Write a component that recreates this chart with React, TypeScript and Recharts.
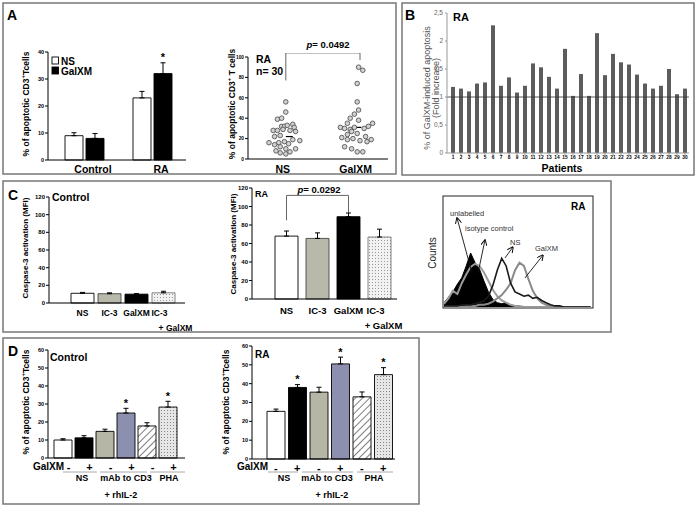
import React from 'react';
import {
  BarChart, Bar, XAxis, YAxis, ErrorBar, Cell, ScatterChart, Scatter,
  ReferenceLine, AreaChart, Area, LabelList,
} from 'recharts';

const FONT = '"Liberation Sans", Arial, Helvetica, sans-serif';

// ===== Panel A, left =====
const aCategories = ['Control', 'RA'];
const aSeriesNames = ['NS', 'GalXM'];
const aNS = [9, 23];
const aNSErr = [1.1, 2.4];
const aGalXM = [8, 32];
const aGalXMErr = [1.8, 4.0];
const aGalXMStar = [false, true];
const aTicks = [0, 10, 20, 30, 40];

// ===== Panel A, right (scatter) =====
const scatterGroups = ['NS', 'GalXM'];
const scatterGroupX = [27, 79];
const scatterNSx = [27, 27, 21, 24, 32, 24, 26, 28, 33, 18, 21, 25, 30, 34, 19, 23, 32, 15, 19, 22, 26, 29, 37, 23, 27, 34, 23, 27, 30, 20];
const scatterNSy = [56, 46, 39, 40, 34, 32, 32, 33, 31, 28, 28, 29, 28, 27, 22, 23, 19, 16, 14, 16, 17, 15, 18, 12, 10, 10, 6, 5, 7, 8];
const scatterGalX = [79, 82, 78, 78, 79, 76, 73, 79, 71, 66, 69, 73, 76, 86, 89, 83, 71, 74, 78, 84, 67, 71, 75, 80, 85, 88, 69, 74, 78, 82];
const scatterGalY = [90, 87, 74, 56, 48, 44, 40, 38, 35, 31, 30, 29, 31, 32, 35, 30, 24, 27, 25, 22, 21, 19, 20, 18, 17, 19, 12, 10, 7, 7];
const scatterMedian = [22, 31];
const scatterMedianSpan = [[27, 32], [74, 81]];
const scatterTicks = [0, 20, 40, 60, 80, 100];
const aBracket = { left: 27, right: 80, top: 104, leftEnd: 77, rightEnd: 97 };

// ===== Panel B =====
const patients = ['1', '2', '3', '4', '5', '6', '7', '8', '9', '10', '11', '12', '13', '14', '15', '16', '17', '18', '19', '20', '21', '22', '23', '24', '25', '26', '27', '28', '29', '30'];
const foldIncrease = [1.18, 1.15, 1.1, 1.24, 1.26, 2.28, 1.2, 1.35, 1.08, 1.2, 1.6, 1.53, 1.36, 1.15, 1.86, 1.02, 1.41, 1.02, 2.14, 1.39, 1.77, 1.62, 1.58, 1.4, 1.24, 1.15, 1.2, 1.5, 1.05, 1.15];
const bTicks = [0, 0.5, 1, 1.5, 2, 2.5];

// ===== Panel C =====
const cLabels = ['NS', 'IC-3', 'GalXM', 'IC-3'];
const cLabels2 = ['', '', '', '+ GalXM'];
const cControl = [11, 10.5, 10, 11.5];
const cControlErr = [1, 1, 0.6, 1.8];
const cRA = [68, 65.5, 89, 67];
const cRAErr = [5.5, 6, 4, 8.5];
const cTicks = [0, 20, 40, 60, 80, 100, 120];
const cFills = ['#ffffff', '#b8b9aa', '#000000', 'url(#dotsC)'];
const cStrokes = ['#000', '#444', '#000', '#777'];
const cBracket = { left: 0, right: 2, top: 112, leftEnd: 85, rightEnd: 93 };

// ===== Panel C, histogram =====
const histX = [0, 3, 6, 9, 12, 15, 18, 21, 24, 27, 30, 33, 36, 39, 42, 45, 48, 51, 54, 57, 60, 63, 66, 69, 72, 75, 78, 81, 84, 87, 90, 93, 96, 99];
const histUnlabelled = [4, 9, 14, 21, 27, 38, 50, 41, 35, 24, 14, 7, 4, 3, 4, 2, 1, 0, 0, 0, 0, 0, 0, 0, 0, 0, 0, 0, 0, 0, 0, 0, 0, 0];
const histIsotype = [3, 8, 15, 12, 22, 30, 37, 40, 38, 32, 24, 16, 10, 6, 4, 2, 1, 1, 0, 0, 0, 0, 0, 0, 0, 0, 0, 0, 0, 0, 0, 0, 0, 0];
const histNS = [1, 1, 1, 1, 2, 2, 2, 3, 4, 6, 10, 20, 34, 45, 38, 22, 14, 12, 10, 11, 8, 9, 6, 4, 2, 1, 1, 0, 0, 0, 0, 0, 0, 0];
const histGalXM = [0, 0, 0, 0, 0, 1, 1, 1, 2, 2, 3, 5, 8, 11, 16, 22, 34, 41, 38, 26, 15, 8, 4, 2, 1, 1, 0, 0, 0, 0, 0, 0, 0, 0];
const histArrows = [
  { from: [18.9, 31.5], to: [8.8, 82.4] },
  { from: [23, 31.5], to: [27.7, 62] },
  { from: [41.2, 45.4], to: [46.6, 55.6] },
  { from: [54.7, 26.9], to: [66.9, 48] },
];

// ===== Panel D =====
const dSigns = ['-', '+', '-', '+', '-', '+'];
const dGroups = ['NS', 'mAb to CD3', 'PHA'];
const dControl = [10, 11.2, 14.8, 25, 17.8, 28.3];
const dControlErr = [0.7, 1.2, 1.2, 2.6, 1.8, 3.2];
const dControlStar = [false, false, false, true, false, true];
const dRA = [25.3, 38, 35.5, 50.5, 33, 44.8];
const dRAErr = [1.2, 1.5, 2.6, 3.6, 2.6, 3.7];
const dRAStar = [false, true, false, true, false, true];
const dTicks = [0, 10, 20, 30, 40, 50, 60];
const dFills = ['#ffffff', '#000000', '#b5b6a6', '#8d8fae', 'url(#hatchD)', 'url(#dotsD)'];

// ---------- helpers ----------
const geom = (x0: number, y0: number, x1: number, y1: number, l: number, r: number, t: number, b: number) => ({
  left: x0 - l, top: y0 - t, width: x1 - x0 + l + r, height: y1 - y0 + t + b, yW: l, xH: b,
  margin: { top: t, right: r, left: 0, bottom: 0 },
});

const yStyle = (fs: number, color = '#000', weight = 700) => ({
  interval: 0 as const,
  tickSize: 3,
  tickMargin: 1,
  tickLine: { stroke: '#000' },
  axisLine: { stroke: '#000' },
  tick: { fontSize: fs, fontWeight: weight, fill: color, fontFamily: FONT },
});

const catTick = (labels: string[], o: { dy: number; dx?: number; fs: number; lastDx?: number; second?: string[]; dy2?: number; dx2?: number }) => (props: any) => {
  const { x, y, payload } = props;
  const i = Number(payload.value);
  const last = i === labels.length - 1;
  const dx = (o.dx ?? 0) + (last && o.lastDx ? o.lastDx : 0);
  return (
    <g>
      <text x={x + dx} y={y + o.dy} textAnchor="middle" fontSize={o.fs} fontWeight={700} fontFamily={FONT} fill="#000">{labels[i]}</text>
      {o.second && o.second[i] ? (
        <text x={x + (o.dx2 ?? 0)} y={y + (o.dy2 ?? 0)} textAnchor="middle" fontSize={o.fs} fontWeight={700} fontFamily={FONT} fill="#000">{o.second[i]}</text>
      ) : null}
    </g>
  );
};

const starContent = (vals: number[], errs: number[]) => (props: any) => {
  if (props.value === undefined || props.value === null || props.value === '') return null;
  const i = Number(props.value) - 1;
  const vb = props.viewBox ?? {};
  const x = vb.x ?? props.x;
  const y = vb.y ?? props.y;
  const w = vb.width ?? props.width;
  const h = vb.height ?? props.height;
  const px = h / vals[i];
  const top = y - errs[i] * px;
  return <text x={x + w / 2} y={top - 1.5} textAnchor="middle" fontSize={11} fontWeight={700} fontFamily={FONT} fill="#000">*</text>;
};

const ArrowShape = (p: any) => (
  <line x1={p.x1} y1={p.y1} x2={p.x2} y2={p.y2} stroke="#111" strokeWidth={0.9} markerEnd="url(#arrowHead)" />
);

const DotShape = (p: any) => <circle cx={p.cx} cy={p.cy} r={2.3} fill="#d2d2d2" stroke="#555" strokeWidth={0.9} />;

const T = (p: { x: number; y: number; s: number; w?: number; c?: string; a?: 'start' | 'middle' | 'end'; children: React.ReactNode }) => (
  <text x={p.x} y={p.y} fontSize={p.s} fontWeight={p.w ?? 700} fill={p.c ?? '#000'} textAnchor={p.a ?? 'start'} fontFamily={FONT}>{p.children}</text>
);
const VT = (p: { x: number; y: number; s: number; w?: number; c?: string; children: React.ReactNode }) => (
  <text transform={`translate(${p.x},${p.y}) rotate(-90)`} textAnchor="middle" dominantBaseline="central" fontSize={p.s} fontWeight={p.w ?? 700} fill={p.c ?? '#000'} fontFamily={FONT}>{p.children}</text>
);
const CD3Label = ({ x, y, space }: { x: number; y: number; space: boolean }) => (
  <VT x={x} y={y} s={8.5}>
    % of apoptotic CD3<tspan dy={-3.5} fontSize={6}>+</tspan><tspan dy={3.5}>{space ? ' T cells' : 'Tcells'}</tspan>
  </VT>
);

// ---------- data tables ----------
const aData = aCategories.map((name, i) => ({
  i, name, ns: aNS[i], nsErr: [0, aNSErr[i]], gal: aGalXM[i], galErr: [0, aGalXMErr[i]],
  star: aGalXMStar[i] ? i + 1 : undefined,
}));
const nsPts = scatterNSx.map((x, i) => ({ x, y: scatterNSy[i] }));
const galPts = scatterGalX.map((x, i) => ({ x, y: scatterGalY[i] }));
const bData = patients.map((p, i) => ({ p, v: foldIncrease[i] }));
const cCtrlData = cLabels.map((_, i) => ({ i, v: cControl[i], err: [0, cControlErr[i]] }));
const cRAData = cLabels.map((_, i) => ({ i, v: cRA[i], err: [0, cRAErr[i]] }));
const histData = histX.map((x, i) => ({ x, unl: histUnlabelled[i], iso: histIsotype[i], ns: histNS[i], gal: histGalXM[i] }));
const dCtrlData = dSigns.map((_, i) => ({ i, v: dControl[i], err: [0, dControlErr[i]], star: dControlStar[i] ? i + 1 : undefined }));
const dRAData = dSigns.map((_, i) => ({ i, v: dRA[i], err: [0, dRAErr[i]], star: dRAStar[i] ? i + 1 : undefined }));

const gA = geom(48, 52, 186, 160, 30, 6, 10, 22);
const gS = geom(248, 57, 388, 159, 16, 4, 4, 18);
const gB = geom(447, 13, 689, 153, 14, 4, 4, 14);
const gCL = geom(49, 197, 185, 303, 16, 30, 6, 30);
const gCM = geom(252, 188, 397, 299, 16, 30, 6, 32);
const gH = geom(444, 199, 592, 307, 0, 0, 0, 0);
const gDL = geom(48, 350, 185, 458, 16, 4, 6, 16);
const gDR = geom(252, 346, 395, 459, 16, 4, 6, 16);

const abs = (g: { left: number; top: number }) => ({ position: 'absolute' as const, left: g.left, top: g.top });

function CBars({ g, data, pad, tick, bracket }: any) {
  return (
    <div style={abs(g)}>
      <BarChart width={g.width} height={g.height} margin={g.margin} data={data}>
        <XAxis dataKey="i" height={g.xH} padding={pad} tickSize={0} interval={0} axisLine={{ stroke: '#000' }} tick={tick} />
        <YAxis width={g.yW} domain={[0, 120]} ticks={cTicks} {...yStyle(6)} />
        <Bar dataKey="v" barSize={23} strokeWidth={0.9} isAnimationActive={false}>
          {data.map((_: any, i: number) => <Cell key={i} fill={cFills[i]} stroke={cStrokes[i]} />)}
          <ErrorBar dataKey="err" width={2.5} stroke="#000" strokeWidth={1} direction="y" />
        </Bar>
        {bracket ? (
          <>
            <ReferenceLine segment={[{ x: bracket.left, y: bracket.leftEnd }, { x: bracket.left, y: bracket.top }]} stroke="#555" strokeWidth={0.9} ifOverflow="visible" />
            <ReferenceLine segment={[{ x: bracket.left, y: bracket.top }, { x: bracket.right, y: bracket.top }]} stroke="#555" strokeWidth={0.9} ifOverflow="visible" />
            <ReferenceLine segment={[{ x: bracket.right, y: bracket.top }, { x: bracket.right, y: bracket.rightEnd }]} stroke="#555" strokeWidth={0.9} ifOverflow="visible" />
          </>
        ) : null}
      </BarChart>
    </div>
  );
}

function DBars({ g, data, vals, errs, pad, dx }: any) {
  return (
    <div style={abs(g)}>
      <BarChart width={g.width} height={g.height} margin={g.margin} data={data}>
        <XAxis dataKey="i" height={g.xH} padding={pad} tickSize={0} interval={0} axisLine={{ stroke: '#000' }} tick={catTick(dSigns, { dy: 11, dx, fs: 11 })} />
        <YAxis width={g.yW} domain={[0, 60]} ticks={dTicks} {...yStyle(5.5)} />
        <Bar dataKey="v" barSize={18} stroke="#000" strokeWidth={0.9} isAnimationActive={false}>
          {data.map((_: any, i: number) => <Cell key={i} fill={dFills[i]} />)}
          <ErrorBar dataKey="err" width={2.5} stroke="#000" strokeWidth={1} direction="y" />
          <LabelList dataKey="star" content={starContent(vals, errs)} />
        </Bar>
      </BarChart>
    </div>
  );
}

export default function App() {
  return (
    <div style={{ position: 'absolute', left: 0, top: 0, width: 697, height: 509, background: '#fff', fontFamily: FONT, overflow: 'hidden' }}>
      <svg width={0} height={0} style={{ position: 'absolute' }}>
        <defs>
          <pattern id="hatchD" patternUnits="userSpaceOnUse" width="5" height="5" patternTransform="rotate(45)">
            <rect width="5" height="5" fill="#fff" />
            <line x1="0" y1="0" x2="0" y2="5" stroke="#000" strokeWidth="1" />
          </pattern>
          <pattern id="dotsD" patternUnits="userSpaceOnUse" width="3" height="3">
            <rect width="3" height="3" fill="#e6e6e6" />
            <rect x="0" y="0" width="1" height="1" fill="#888" />
          </pattern>
          <pattern id="dotsC" patternUnits="userSpaceOnUse" width="3" height="3">
            <rect width="3" height="3" fill="#f2f2f2" />
            <rect x="1" y="1" width="1" height="1" fill="#999" />
          </pattern>
          <marker id="arrowHead" viewBox="0 0 10 10" refX="9" refY="5" markerWidth="7" markerHeight="7" orient="auto-start-reverse">
            <path d="M0,0 L10,5 L0,10" fill="none" stroke="#111" strokeWidth="1.6" />
          </marker>
        </defs>
      </svg>

      {/* Panel A left */}
      <div style={abs(gA)}>
        <BarChart width={gA.width} height={gA.height} margin={gA.margin} data={aData} barGap={3}>
          <XAxis dataKey="i" height={gA.xH} padding={{ left: 2, right: 0 }} tickSize={0} interval={0} axisLine={{ stroke: '#000' }} tick={catTick(aCategories, { dy: 11, dx: 9, fs: 10.5 })} />
          <YAxis width={gA.yW} domain={[0, 40]} ticks={aTicks} {...yStyle(5.5)} />
          <Bar dataKey="ns" name={aSeriesNames[0]} fill="#fff" stroke="#000" strokeWidth={0.9} barSize={18} isAnimationActive={false}>
            <ErrorBar dataKey="nsErr" width={2.5} stroke="#000" strokeWidth={1} direction="y" />
          </Bar>
          <Bar dataKey="gal" name={aSeriesNames[1]} fill="#000" stroke="#000" strokeWidth={0.9} barSize={18} isAnimationActive={false}>
            <ErrorBar dataKey="galErr" width={2.5} stroke="#000" strokeWidth={1} direction="y" />
            <LabelList dataKey="star" content={starContent(aGalXM, aGalXMErr)} />
          </Bar>
        </BarChart>
      </div>

      {/* Panel A right */}
      <div style={abs(gS)}>
        <ScatterChart width={gS.width} height={gS.height} margin={gS.margin}>
          <XAxis type="number" dataKey="x" domain={[0, 100]} ticks={scatterGroupX} interval={0} height={gS.xH} tickSize={0} axisLine={{ stroke: '#000' }}
            tick={(p: any) => (
              <text x={p.x - 3} y={p.y + 12} textAnchor="middle" fontSize={10.5} fontWeight={700} fontFamily={FONT}>{scatterGroups[scatterGroupX.indexOf(p.payload.value)]}</text>
            )} />
          <YAxis type="number" dataKey="y" domain={[0, 100]} ticks={scatterTicks} width={gS.yW} {...yStyle(4.8)} />
          <Scatter data={nsPts} shape={DotShape} isAnimationActive={false} />
          <Scatter data={galPts} shape={DotShape} isAnimationActive={false} />
          {scatterMedian.map((m, i) => (
            <ReferenceLine key={i} segment={[{ x: scatterMedianSpan[i][0], y: m }, { x: scatterMedianSpan[i][1], y: m }]} stroke="#000" strokeWidth={1.2} ifOverflow="visible" />
          ))}
          <ReferenceLine segment={[{ x: aBracket.left, y: aBracket.leftEnd }, { x: aBracket.left, y: aBracket.top }]} stroke="#555" strokeWidth={0.9} ifOverflow="visible" />
          <ReferenceLine segment={[{ x: aBracket.left, y: aBracket.top }, { x: aBracket.right, y: aBracket.top }]} stroke="#555" strokeWidth={0.9} ifOverflow="visible" />
          <ReferenceLine segment={[{ x: aBracket.right, y: aBracket.top }, { x: aBracket.right, y: aBracket.rightEnd }]} stroke="#555" strokeWidth={0.9} ifOverflow="visible" />
        </ScatterChart>
      </div>

      {/* Panel B */}
      <div style={abs(gB)}>
        <BarChart width={gB.width} height={gB.height} margin={gB.margin} data={bData}>
          <XAxis dataKey="p" interval={0} padding={{ left: 2, right: 0 }} height={gB.xH} tickSize={2} tickMargin={1}
            tickLine={{ stroke: '#999' }} axisLine={{ stroke: '#999' }} tick={{ fontSize: 4.8, fontWeight: 700, fill: '#000', fontFamily: FONT }} />
          <YAxis width={gB.yW} domain={[0, 2.5]} ticks={bTicks} interval={0} tickFormatter={(v: number) => String(v).replace('.', ',')}
            tickSize={2} tickMargin={2} tick={{ fontSize: 6.5, fill: '#666', fontFamily: FONT }} axisLine={{ stroke: '#999' }} tickLine={{ stroke: '#999' }} />
          <Bar dataKey="v" fill="#5c5c5c" barSize={4} isAnimationActive={false} />
          <ReferenceLine y={1} stroke="#333" strokeWidth={0.8} />
        </BarChart>
      </div>

      {/* Panel C */}
      <CBars g={gCL} data={cCtrlData} pad={{ left: 20, right: 8 }}
        tick={catTick(cLabels, { dy: 11, fs: 8.5, lastDx: -4, second: cLabels2, dy2: 26, dx2: 12 })} />
      <CBars g={gCM} data={cRAData} pad={{ left: 19, right: 2 }} bracket={cBracket}
        tick={catTick(cLabels, { dy: 13, fs: 9.5, lastDx: -4, second: cLabels2, dy2: 28, dx2: 4 })} />

      <div style={abs(gH)}>
        <AreaChart width={gH.width} height={gH.height} margin={gH.margin} data={histData}>
          <XAxis type="number" dataKey="x" domain={[0, 100]} hide />
          <YAxis type="number" domain={[0, 100]} hide />
          <Area type="linear" dataKey="unl" stroke="#000" strokeWidth={1} fill="#000" fillOpacity={1} dot={false} activeDot={false} isAnimationActive={false} />
          <Area type="linear" dataKey="iso" stroke="#9a9a9a" strokeWidth={2} fill="none" dot={false} activeDot={false} isAnimationActive={false} />
          <Area type="linear" dataKey="gal" stroke="#8a8a8a" strokeWidth={2} fill="none" dot={false} activeDot={false} isAnimationActive={false} />
          <Area type="linear" dataKey="ns" stroke="#1a1a1a" strokeWidth={1.6} fill="none" dot={false} activeDot={false} isAnimationActive={false} />
          {histArrows.map((a, i) => (
            <ReferenceLine key={i} segment={[{ x: a.from[0], y: a.from[1] }, { x: a.to[0], y: a.to[1] }]} shape={ArrowShape} ifOverflow="visible" />
          ))}
        </AreaChart>
      </div>

      {/* Panel D */}
      <DBars g={gDL} data={dCtrlData} vals={dControl} errs={dControlErr} pad={{ left: 4, right: 7 }} dx={6} />
      <DBars g={gDR} data={dRAData} vals={dRA} errs={dRAErr} pad={{ left: 13, right: 1 }} dx={0} />

      {/* Overlay: frames and texts */}
      <svg width={697} height={509} style={{ position: 'absolute', left: 0, top: 0, pointerEvents: 'none' }}>
        <g fill="none" stroke="#777" strokeWidth={1.5}>
          <rect x={3} y={3} width={393} height={171} />
          <rect x={402} y={3} width={292} height={172} />
          <rect x={3} y={181} width={608} height={151} />
          <rect x={3} y={338} width={416} height={166} />
        </g>
        <rect x={443} y={196} width={150} height={112} fill="none" stroke="#222" strokeWidth={1} />

        <T x={7} y={20} s={14}>A</T>
        <T x={405} y={20} s={14}>B</T>
        <T x={8} y={200} s={14}>C</T>
        <T x={8} y={356} s={14}>D</T>

        {/* A left */}
        <rect x={52} y={57} width={6.5} height={7} fill="#fff" stroke="#000" strokeWidth={0.9} />
        <T x={61} y={64.5} s={10}>{aSeriesNames[0]}</T>
        <rect x={52} y={67} width={6.5} height={7} fill="#000" stroke="#000" strokeWidth={0.9} />
        <T x={61} y={74.5} s={10}>{aSeriesNames[1]}</T>
        <CD3Label x={26} y={104} space={false} />

        {/* A right */}
        <CD3Label x={232} y={104} space={true} />
        <T x={256} y={63} s={10.5}>RA</T>
        <T x={256} y={75} s={10.5}>n= 30</T>
        <text x={328} y={48} fontSize={9.5} fontWeight={700} textAnchor="middle" fontFamily={FONT}>
          <tspan fontStyle="italic">p</tspan>= 0.0492
        </text>

        {/* B */}
        <VT x={427} y={88} s={9} w={400} c="#555">% of GalXM-induced apoptosis</VT>
        <VT x={436} y={88} s={9} w={400} c="#555">(Fold increase)</VT>
        <T x={453} y={21} s={11}>RA</T>
        <T x={562} y={172} s={10.5} a="middle">Patients</T>

        {/* C */}
        <T x={52} y={201} s={10.5}>Control</T>
        <VT x={25} y={248} s={8}>Caspase-3 activation (MFI)</VT>
        <VT x={233} y={244} s={8}>Caspase-3 activation (MFI)</VT>
        <T x={255} y={197} s={9}>RA</T>
        <text x={319} y={193} fontSize={9.5} fontWeight={700} textAnchor="middle" fontFamily={FONT}>
          <tspan fontStyle="italic">p</tspan>= 0.0292
        </text>
        <VT x={432} y={253} s={10} w={400} c="#222">Counts</VT>
        <T x={450} y={216} s={7.5} w={400} c="#333">unlabelled</T>
        <T x={465} y={231} s={7.5} w={400} c="#333">isotype control</T>
        <T x={510} y={245} s={7.5} w={400} c="#333">NS</T>
        <T x={535} y={251} s={7.5} w={400} c="#333">GalXM</T>
        <T x={571} y={210} s={10}>RA</T>

        {/* D */}
        <T x={50} y={361} s={10.5}>Control</T>
        <CD3Label x={26} y={402} space={false} />
        <CD3Label x={226} y={402} space={false} />
        <T x={255} y={358} s={10}>RA</T>
        <T x={33} y={470} s={10}>GalXM</T>
        <T x={237} y={470} s={10}>GalXM</T>
        <g stroke="#aaa" strokeWidth={1}>
          <line x1={63} y1={472} x2={97} y2={472} />
          <line x1={100} y1={472} x2={147} y2={472} />
          <line x1={150} y1={472} x2={185} y2={472} />
          <line x1={268} y1={472} x2={298} y2={472} />
          <line x1={302} y1={472} x2={353} y2={472} />
          <line x1={357} y1={472} x2={393} y2={472} />
        </g>
        <T x={82} y={481} s={9} a="middle">{dGroups[0]}</T>
        <T x={126} y={481} s={9} a="middle">{dGroups[1]}</T>
        <T x={169} y={481} s={9} a="middle">{dGroups[2]}</T>
        <T x={121} y={498} s={9} a="middle">+ rhIL-2</T>
        <T x={284} y={481} s={9} a="middle">{dGroups[0]}</T>
        <T x={327} y={481} s={9} a="middle">{dGroups[1]}</T>
        <T x={374} y={481} s={9} a="middle">{dGroups[2]}</T>
        <T x={332} y={498} s={9} a="middle">+ rhIL-2</T>
      </svg>
    </div>
  );
}
